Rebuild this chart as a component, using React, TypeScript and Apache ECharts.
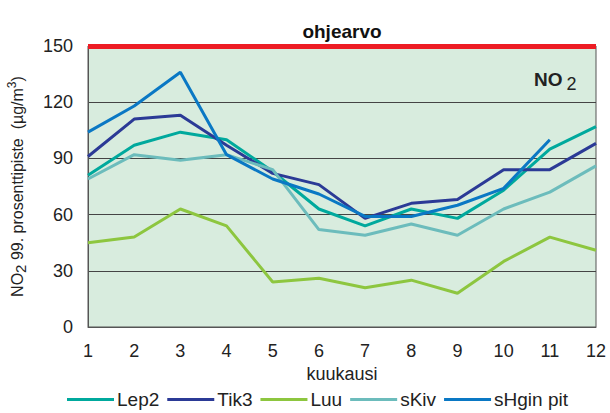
import React, { useEffect, useRef } from "react";
import * as echarts from "echarts";

const months = ["1", "2", "3", "4", "5", "6", "7", "8", "9", "10", "11", "12"];
const lep2 = [81, 97, 104, 100, 83, 63, 54, 63, 58, 73, 95, 107];
const tik3 = [91, 111, 113, 97, 82, 76, 58, 66, 68, 84, 84, 98];
const luu = [45, 48, 63, 54, 24, 26, 21, 25, 18, 35, 48, 41];
const skiv = [79, 92, 89, 92, 84, 52, 49, 55, 49, 63, 72, 86];
const shgin: (number | null)[] = [104, 118, 136, 92, 79, 71, 59, 59, 65, 74, 100, null];
const limitValue = 150;

const FONT = "Liberation Sans, Arial, sans-serif";

export default function App() {
  const ref = useRef<HTMLDivElement>(null);
  useEffect(() => {
    const chart = echarts.init(ref.current!, null, { renderer: "svg" });
    const mk = (name: string, data: (number | null)[], color: string, extra: any = {}) => ({
      name,
      type: "line",
      data,
      symbol: "none",
      lineStyle: { color, width: 3 },
      itemStyle: { color },
      ...extra,
    });
    chart.setOption({
      animation: false,
      textStyle: { fontFamily: FONT },
      grid: {
        left: 88,
        right: 14,
        top: 46,
        bottom: 86,
        outerBoundsMode: "none",
        containLabel: false,
        show: true,
        backgroundColor: "#d8ecde",
        borderColor: "#555",
        borderWidth: 1,
      },
      legend: {
        bottom: -1,
        left: 62,
        itemWidth: 47,
        itemHeight: 3,
        itemGap: 8,
        icon: "rect",
        textStyle: { fontFamily: FONT, fontSize: 19, color: "#222", padding: [0, 0, 0, -2] },
        data: ["Lep2", "Tik3", "Luu", "sKiv", "sHgin pit"],
      },
      xAxis: {
        type: "category",
        data: months,
        boundaryGap: false,
        name: "kuukausi",
        nameLocation: "middle",
        nameGap: 37,
        nameTextStyle: { fontFamily: FONT, fontSize: 18, color: "#222" },
        axisLine: { lineStyle: { color: "#555" } },
        axisTick: { show: false },
        axisLabel: { fontFamily: FONT, fontSize: 18, color: "#222", margin: 15 },
      },
      yAxis: {
        type: "value",
        min: 0,
        max: 150,
        interval: 30,
        name: "{a|NO}{sub|2}{a| 99. prosenttipiste  (µg/m}{sup|3}{a|)}",
        nameLocation: "middle",
        nameRotate: 90,
        nameGap: 60,
        nameTextStyle: {
          fontFamily: FONT,
          rich: {
            a: { fontFamily: FONT, fontSize: 16, color: "#222", lineHeight: 22, verticalAlign: "middle" },
            sub: { fontFamily: FONT, fontSize: 15, color: "#222", lineHeight: 22, verticalAlign: "bottom", padding: [7, 0, 0, 0] },
            sup: { fontFamily: FONT, fontSize: 12, color: "#222", lineHeight: 22, verticalAlign: "top" },
          },
        },
        axisLine: { show: true, lineStyle: { color: "#555" } },
        axisTick: { show: false },
        splitLine: { lineStyle: { color: "#444", width: 1 } },
        axisLabel: { fontFamily: FONT, fontSize: 18, color: "#222", margin: 15 },
      },
      graphic: [
        {
          type: "text",
          left: 534,
          top: 66,
          style: {
            text: "{b|NO}{s|2}",
            rich: {
              b: { fontFamily: FONT, fontSize: 19, fontWeight: "bold", fill: "#222", lineHeight: 24 },
              s: { fontFamily: FONT, fontSize: 18, fill: "#222", lineHeight: 24, padding: [9, 0, 0, 4] },
            },
          },
        },
      ],
      series: [
        mk("Lep2", lep2, "#00a99d", {
          markLine: {
            silent: true,
            symbol: "none",
            data: [{ yAxis: limitValue }],
            lineStyle: { color: "#ed1c24", width: 5, type: "solid" },
            label: {
              show: true,
              position: "insideMiddleTop",
              formatter: "ohjearvo",
              fontFamily: FONT,
              fontSize: 19,
              fontWeight: "bold",
              color: "#111",
              distance: 5,
            },
          },
        }),
        mk("Tik3", tik3, "#2b3a96"),
        mk("Luu", luu, "#8dc63f"),
        mk("sKiv", skiv, "#6cbcbc"),
        mk("sHgin pit", shgin, "#0a78c4"),
      ],
    });
    return () => chart.dispose();
  }, []);
  return <div ref={ref} style={{ width: 610, height: 413, position: "absolute", left: 0, top: 0, background: "#fff" }} />;
}
